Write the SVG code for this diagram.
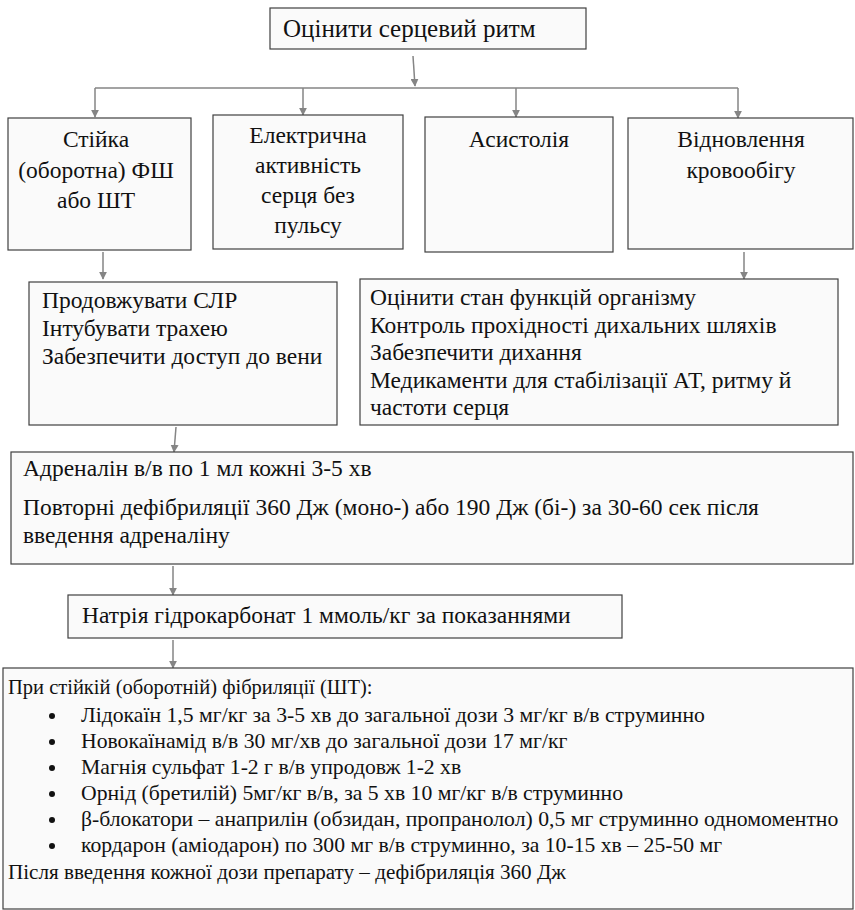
<svg xmlns="http://www.w3.org/2000/svg" width="855" height="910" viewBox="0 0 855 910">
<style>
.box{fill:#fafafa;stroke:#404040;stroke-width:1.2}
.t{font-size:23.5px;fill:#111}
.c{text-anchor:middle}
.title{font-size:25px}
.list{font-size:21.7px}
.conn line{stroke:#858585;stroke-width:1.5;fill:none}
.arr{marker-end:url(#ah)}
</style>
<defs>
<marker id="ah" viewBox="0 0 10 10" refX="9" refY="5" markerWidth="8" markerHeight="8" markerUnits="userSpaceOnUse" orient="auto">
<path d="M0,0 L10,5 L0,10 Z" fill="#858585"/>
</marker>
</defs>
<rect width="855" height="910" fill="#ffffff"/>
<g id="connectors" class="conn">
<line class="arr" x1="413" y1="56" x2="415" y2="86"/>
<line x1="95" y1="88" x2="738" y2="88"/>
<line class="arr" x1="95" y1="88" x2="95" y2="117"/>
<line class="arr" x1="303" y1="88" x2="303" y2="115"/>
<line class="arr" x1="516" y1="88" x2="516" y2="117"/>
<line class="arr" x1="738" y1="88" x2="738" y2="118"/>
<line class="arr" x1="103" y1="252" x2="103" y2="279"/>
<line class="arr" x1="744" y1="252" x2="744" y2="279"/>
<line class="arr" x1="176" y1="427" x2="174" y2="452"/>
<line class="arr" x1="173" y1="566" x2="173" y2="595"/>
<line class="arr" x1="173" y1="640" x2="173" y2="668"/>
</g>
<g font-family="Liberation Serif, DejaVu Serif, serif">
<g id="n_title">
<rect class="box" x="270" y="8" width="316" height="41"/>
<text class="t title" x="283" y="37">Оцінити серцевий ритм</text>
</g>
<g id="n_vf">
<rect class="box" x="8" y="118" width="183" height="132"/>
<text class="t c" x="96" y="147">Стійка</text>
<text class="t c" x="96" y="178">(оборотна) ФШ</text>
<text class="t c" x="96" y="208">або ШТ</text>
</g>
<g id="n_pea">
<rect class="box" x="213" y="115" width="190" height="134"/>
<text class="t c" x="308" y="143">Електрична</text>
<text class="t c" x="308" y="173">активність</text>
<text class="t c" x="308" y="203">серця без</text>
<text class="t c" x="308" y="233">пульсу</text>
</g>
<g id="n_asys">
<rect class="box" x="425" y="117" width="188" height="135"/>
<text class="t c" x="519" y="147">Асистолія</text>
</g>
<g id="n_rosc">
<rect class="box" x="628" y="118" width="225" height="131"/>
<text class="t c" x="741" y="147">Відновлення</text>
<text class="t c" x="741" y="178">кровообігу</text>
</g>
<g id="n_cpr">
<rect class="box" x="29" y="282" width="308" height="143"/>
<text class="t" x="42" y="308">Продовжувати СЛР</text>
<text class="t" x="42" y="336">Інтубувати трахею</text>
<text class="t" x="42" y="364">Забезпечити доступ до вени</text>
</g>
<g id="n_post">
<rect class="box" x="360" y="279" width="478" height="146"/>
<text class="t" x="370" y="305">Оцінити стан функцій організму</text>
<text class="t" x="370" y="333">Контроль прохідності дихальних шляхів</text>
<text class="t" x="370" y="360">Забезпечити дихання</text>
<text class="t" x="370" y="388">Медикаменти для стабілізації АТ, ритму й</text>
<text class="t" x="370" y="415">частоти серця</text>
</g>
<g id="n_adr">
<rect class="box" x="11" y="452" width="842" height="112"/>
<text class="t" x="23" y="476">Адреналін в/в по 1 мл кожні 3-5 хв</text>
<text class="t" x="23" y="515">Повторні дефібриляції 360 Дж (моно-) або 190 Дж (бі-) за 30-60 сек після</text>
<text class="t" x="23" y="543">введення адреналіну</text>
</g>
<g id="n_soda">
<rect class="box" x="68" y="595" width="554" height="43"/>
<text class="t" x="82" y="623">Натрія гідрокарбонат 1 ммоль/кг за показаннями</text>
</g>
<g id="n_drugs">
<rect class="box" x="3" y="668" width="850" height="241"/>
<text class="t" x="8" y="694" style="font-size:20.5px">При стійкій (оборотній) фібриляції (ШТ):</text>
<g fill="#111">
<circle cx="52" cy="716" r="3"/>
<circle cx="52" cy="742" r="3"/>
<circle cx="52" cy="768" r="3"/>
<circle cx="52" cy="794" r="3"/>
<circle cx="52" cy="820" r="3"/>
<circle cx="52" cy="846" r="3"/>
</g>
<text class="t list" x="81" y="722">Лідокаїн 1,5 мг/кг за 3-5 хв до загальної дози 3 мг/кг в/в струминно</text>
<text class="t list" x="81" y="748">Новокаїнамід в/в 30 мг/хв до загальної дози 17 мг/кг</text>
<text class="t list" x="81" y="774">Магнія сульфат 1-2 г в/в упродовж 1-2 хв</text>
<text class="t list" x="81" y="800">Орнід (бретилій) 5мг/кг в/в, за 5 хв 10 мг/кг в/в струминно</text>
<text class="t list" x="81" y="826">β-блокатори – анаприлін (обзидан, пропранолол) 0,5 мг струминно одномоментно</text>
<text class="t list" x="81" y="852">кордарон (аміодарон) по 300 мг в/в струминно, за 10-15 хв – 25-50 мг</text>
<text class="t" x="8" y="879" style="font-size:21.1px">Після введення кожної дози препарату – дефібриляція 360 Дж</text>
</g>
</g>
</svg>
